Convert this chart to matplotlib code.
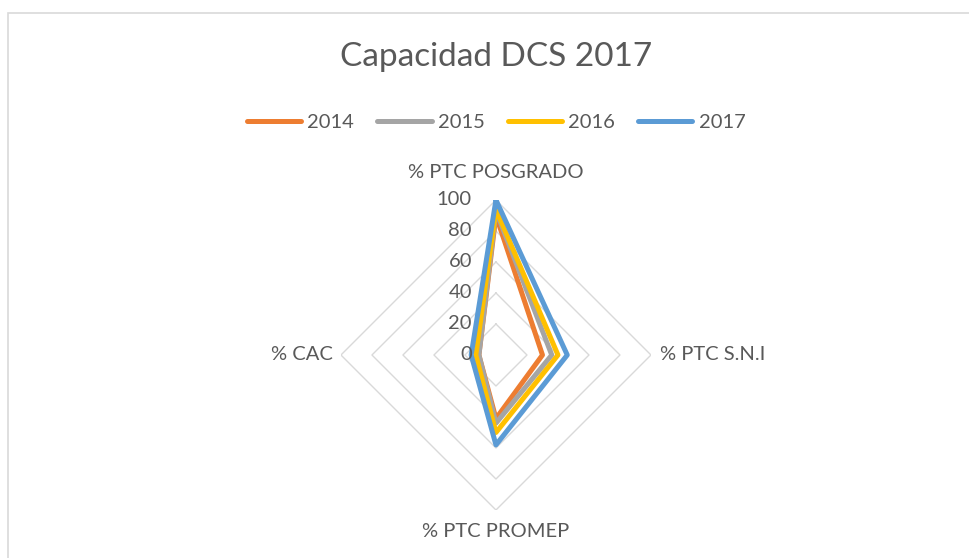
import numpy as np
import matplotlib
matplotlib.use("Agg")
import matplotlib.pyplot as plt
from matplotlib.patches import Rectangle

# datos
categorias = ["% PTC POSGRADO", "% PTC S.N.I", "% PTC PROMEP", "% CAC"]
anios = ["2014", "2015", "2016", "2017"]
v2014 = [90, 30, 41, 11]
v2015 = [93, 36, 44, 11]
v2016 = [94, 40, 50, 13]
v2017 = [100, 46, 58, 16]
niveles = [0, 20, 40, 60, 80, 100]

colores = ["#ED7D31", "#A5A5A5", "#FFC000", "#5B9BD5"]
gris_txt = "#595959"
gris_red = "#D9D9D9"

plt.rcParams["font.family"] = ["Lato", "DejaVu Sans"]

fig = plt.figure(figsize=(9.7, 5.58), dpi=100)
fig.patch.set_facecolor("white")

# marco del area del grafico
fig.patches.append(Rectangle((8.5 / 970, -0.1), 1.2, 1 - 13.5 / 558 + 0.1,
                             transform=fig.transFigure, fill=False,
                             edgecolor=gris_red, lw=1.2))

ax = fig.add_axes([0.3515, 0.0860, 0.3196, 0.5556], projection="polar")
ax.set_theta_zero_location("N")
ax.set_theta_direction(-1)
ax.set_ylim(0, 100)
ax.grid(False)
ax.spines["polar"].set_visible(False)
ax.set_xticks([])
ax.set_yticks([])
ax.patch.set_alpha(0)

angulos = np.linspace(0, 2 * np.pi, len(categorias), endpoint=False)
ang_c = np.append(angulos, angulos[0])

# red poligonal (rombos)
for n in niveles[1:]:
    ax.plot(ang_c, [n] * len(ang_c), color=gris_red, lw=1.0, zorder=1)

# series
for serie, col, lab in zip([v2014, v2015, v2016, v2017], colores, anios):
    vals = serie + serie[:1]
    ax.plot(ang_c, vals, color=col, lw=3.6, label=lab,
            solid_joinstyle="round", solid_capstyle="round", zorder=3)

# etiquetas de ejes
pos_lab = [(118, "center", "center"), (106, "left", "center"),
           (114, "center", "center"), (105, "right", "center")]
for ang, cat, (r, ha, va) in zip(angulos, categorias, pos_lab):
    ax.text(ang, r, cat, ha=ha, va=va, fontsize=14.5, color=gris_txt,
            clip_on=False)

# etiquetas radiales
for n in niveles:
    ax.annotate(str(n), xy=(0, n), xytext=(-24, 0), textcoords="offset pixels",
                ha="right", va="center", fontsize=14.5, color=gris_txt,
                annotation_clip=False, zorder=4)

fig.text(496 / 970, 1 - 57 / 558, "Capacidad DCS 2017", ha="center",
         va="center", fontsize=24, color=gris_txt)

h, l = ax.get_legend_handles_labels()
fig.legend(h, l, loc="center", bbox_to_anchor=(496 / 970, 1 - 122 / 558),
           ncol=4, frameon=False, fontsize=14.5, labelcolor=gris_txt,
           handlelength=2.7, handletextpad=0.3, columnspacing=1.15)

fig.savefig("out.png", dpi=100)
